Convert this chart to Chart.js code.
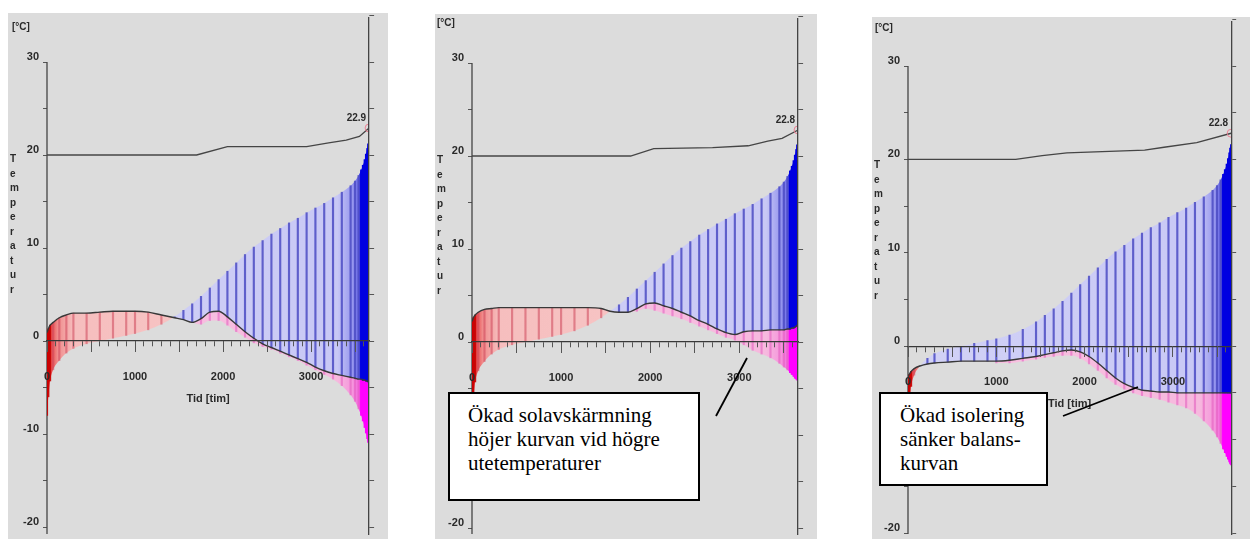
<!DOCTYPE html>
<html>
<head>
<meta charset="utf-8">
<script src="https://cdn.jsdelivr.net/npm/chart.js@4.4.1/dist/chart.umd.min.js"></script>
<style>
  body { margin: 0; width: 1250px; height: 539px; background: #fff; position: relative; overflow: hidden; font-family: "Liberation Sans", Arial, sans-serif; }
  .panel { position: absolute; background: #dcdcdc; }
  .panel canvas { position: absolute; left: 0; top: 0; }
  .unit { position: absolute; font-weight: bold; font-size: 10px; color: #2a2a2a; }
  .ytitle { position: absolute; font-weight: bold; font-size: 10px; line-height: 14.5px; width: 1px; word-break: break-all; color: #2a2a2a; }
  .xtitle { position: absolute; font-weight: bold; font-size: 11px; color: #2a2a2a; transform: translateX(-50%); white-space: nowrap; }
  .endlabel { position: absolute; font-weight: bold; font-size: 10px; color: #2a2a2a; transform: translate(-100%, -100%); }
  .note { position: absolute; box-sizing: border-box; background: #fff; border: 2px solid #000; font-family: "Liberation Serif", "Times New Roman", serif; font-size: 21px; line-height: 24px; color: #000; z-index: 5; }
  svg.leaders { position: absolute; left: 0; top: 0; z-index: 6; }
</style>
</head>
<body>

<div id="panels"></div>

<div class="note" style="left:448px; top:392px; width:252px; height:109px; padding:9px 0 0 18px;">Ökad solavskärmning<br>höjer kurvan vid högre<br>utetemperaturer</div>
<div class="note" style="left:879px; top:392px; width:169px; height:94px; padding:9px 0 0 19px;">Ökad isolering<br>sänker balans-<br>kurvan</div>

<svg class="leaders" width="1250" height="539">
  <line x1="747" y1="358" x2="716" y2="416" stroke="#000" stroke-width="1.8"/>
  <line x1="1138" y1="387" x2="1063" y2="416" stroke="#000" stroke-width="1.8"/>
</svg>

<script>
// duration in hours (sorted outdoor temperature)
const hours = [0, 15, 35, 70, 140, 220, 300, 450, 600, 750, 900, 1000, 1150, 1300, 1450, 1550, 1650,
  1750, 1850, 1950, 2050, 2150, 2250, 2350, 2450, 2550, 2650, 2750, 2850, 2950, 3050, 3150, 3250,
  3350, 3450, 3500, 3540, 3570, 3590, 3610, 3625, 3640, 3650, 3660]

// outdoor temperature, same climate in all three diagrams
const outdoorTemp = [-8, -6, -4.3, -3.1, -2.1, -1.3, -0.8, -0.3, 0, 0.3, 0.6, 0.8, 1.2, 1.8, 2.6, 3.3, 4.0,
  4.8, 5.7, 6.6, 7.5, 8.4, 9.3, 10.1, 10.8, 11.5, 12.1, 12.7, 13.2, 13.8, 14.3, 14.8, 15.4,
  16.0, 16.7, 17.2, 17.8, 18.4, 18.9, 19.5, 20.1, 20.7, 21.2, 21.6]

// balance temperature curves
const balance1 = [0.9, 1.3, 1.7, 2.0, 2.5, 2.8, 3.0, 3.0, 3.1, 3.2, 3.2, 3.2, 3.1, 2.8, 2.5, 2.3, 2.0,
  2.4, 3.1, 3.2, 2.6, 1.8, 1.0, 0.3, -0.3, -0.7, -1.1, -1.5, -1.9, -2.3, -2.8, -3.2, -3.5,
  -3.7, -3.9, -4.0, -4.1, -4.1, -4.2, -4.2, -4.3, -4.3, -4.4, -4.4]
const balance2 = [2.2, 2.6, 2.9, 3.2, 3.5, 3.6, 3.7, 3.7, 3.7, 3.7, 3.7, 3.7, 3.7, 3.7, 3.6, 3.3, 3.2,
  3.2, 3.6, 4.1, 4.2, 3.9, 3.6, 3.2, 2.8, 2.3, 1.9, 1.4, 1.0, 0.8, 1.1, 1.2, 1.2,
  1.3, 1.3, 1.3, 1.4, 1.4, 1.5, 1.5, 1.6, 1.7, 1.8, 1.8]
const balance3 = [-3.3, -3.0, -2.7, -2.4, -2.1, -1.9, -1.8, -1.7, -1.6, -1.6, -1.6, -1.6, -1.5, -1.3, -1.1, -0.9, -0.7,
  -0.5, -0.4, -0.6, -1.1, -1.8, -2.6, -3.4, -4.0, -4.4, -4.7, -4.8, -4.9, -4.9, -5.0, -5.0, -5.0,
  -5.0, -5.0, -5.0, -5.0, -5.0, -5.0, -5.0, -5.0, -5.0, -5.0, -5.0]

// lower (magenta) curves, null where there is none
const lower1 = [null, null, null, null, null, null, null, null, null, null, null, null, null, null, null, null, 2.0,
  1.8, 2.2, 2.2, 1.7, 1.0, 0.4, -0.2, -0.6, -0.9, -1.3, -1.7, -2.1, -2.6, -3.1, -3.6, -4.1,
  -4.8, -5.8, -6.5, -7.3, -8.0, -8.6, -9.3, -9.9, -10.5, -10.9, -11.2]
const lower2 = [null, null, null, null, null, null, null, null, null, null, null, null, null, null, null, null, null,
  3.2, 3.3, 3.6, 3.4, 3.1, 2.8, 2.5, 2.1, 1.7, 1.3, 0.9, 0.5, 0.2, -0.3, -0.9, -1.3,
  -1.7, -2.3, -2.7, -3.0, -3.3, -3.5, -3.7, -3.9, -4.0, -4.1, -4.2]
const lower3 = [null, null, null, null, null, null, null, null, null, null, null, -1.8, -1.8, -1.6, -1.4, -1.2, -1.1,
  -1.0, -1.0, -1.3, -1.9, -2.6, -3.4, -4.1, -4.6, -5.0, -5.3, -5.5, -5.7, -6.0, -6.3, -6.6, -7.2,
  -8.0, -9.0, -9.7, -10.4, -11.0, -11.4, -11.8, -12.1, -12.4, -12.6, -12.7]

// indoor temperature
const indoorHours1 = [0, 1700, 2050, 2950, 3200, 3400, 3550, 3660]
const indoorTemp1 = [20, 20, 20.9, 20.9, 21.3, 21.6, 22.0, 22.9]
const indoorHours2 = [0, 1780, 2040, 2700, 3100, 3320, 3480, 3660]
const indoorTemp2 = [20, 20, 20.8, 20.9, 21.1, 21.6, 21.9, 22.8]
const indoorHours3 = [0, 1220, 1520, 1800, 2680, 2900, 3270, 3660]
const indoorTemp3 = [20, 20, 20.4, 20.7, 21.0, 21.3, 21.8, 22.8]
const endLabels = ['22.9', '22.8', '22.8']

// axes
const xMax = 3660
const xLabels = [0, 1000, 2000, 3000]
const yLabels = [-20, -10, 0, 10, 20, 30]
const yUnit = '[°C]'
const yTitle = 'Temperatur'
const xTitle = 'Tid [tim]'

// where each diagram sits on the page
const panels = [
  { left: 8, top: 13, width: 380, height: 526, plotLeft: 47, plotRight: 377, y30: 62, yM20: 527,
    unit: [12, 21], ytitle: [10, 152], balance: balance1, lower: lower1, inHours: indoorHours1, inTemp: indoorTemp1 },
  { left: 435, top: 14, width: 382, height: 525, plotLeft: 472, plotRight: 802, y30: 63, yM20: 528,
    unit: [437, 17], ytitle: [437, 153], balance: balance2, lower: lower2, inHours: indoorHours2, inTemp: indoorTemp2 },
  { left: 872, top: 17, width: 378, height: 522, plotLeft: 908, plotRight: 1242, y30: 66, yM20: 533,
    unit: [875, 22], ytitle: [874, 158], balance: balance3, lower: lower3, inHours: indoorHours3, inTemp: indoorTemp3 }
]

const warmStops = [[0, 'rgb(210,210,246)'], [3300, 'rgb(200,200,245)'], [3470, 'rgb(150,150,238)'],
  [3540, 'rgb(110,110,235)'], [3560, 'rgb(20,20,230)'], [3660, 'rgb(0,0,225)']]
const coldStops = [[0, 'rgb(225,20,25)'], [40, 'rgb(232,70,70)'], [120, 'rgb(240,140,140)'],
  [300, 'rgb(246,190,190)'], [3660, 'rgb(248,205,205)']]
const lowStops = [[0, 'rgb(248,195,225)'], [3300, 'rgb(246,185,222)'], [3470, 'rgb(245,150,220)'],
  [3540, 'rgb(245,110,225)'], [3560, 'rgb(255,40,245)'], [3660, 'rgb(255,0,255)']]

function hGrad(chart, stops) {
  const {ctx, chartArea, scales} = chart
  if (!chartArea) return stops[stops.length - 1][1]
  const g = ctx.createLinearGradient(scales.x.getPixelForValue(0), 0, scales.x.getPixelForValue(xMax), 0)
  stops.forEach(s => g.addColorStop(s[0] / xMax, s[1]))
  return g
}

function pts(xs, ys) {
  let out = []
  xs.forEach((x, i) => { if (ys[i] !== null) out.push({x: x, y: ys[i]}) })
  return out
}

function steps(from, to, step) {
  let out = []
  for (let v = from; v <= to; v += step) out.push({value: v})
  return out
}

const axisLine = {
  id: 'axisLine',
  beforeDatasetsDraw(chart) {
    const {ctx, chartArea, scales} = chart
    ctx.save()
    ctx.strokeStyle = '#444'
    ctx.lineWidth = 1.3
    ctx.beginPath()
    ctx.moveTo(chartArea.left, scales.y.getPixelForValue(30))
    ctx.lineTo(chartArea.left, chartArea.bottom)
    ctx.stroke()
    ctx.restore()
  }
}

const holder = document.getElementById('panels')

panels.forEach((p, n) => {
  let div = document.createElement('div')
  div.className = 'panel'
  div.style.left = p.left + 'px'
  div.style.top = p.top + 'px'
  div.style.width = p.width + 'px'
  div.style.height = p.height + 'px'
  let canvas = document.createElement('canvas')
  canvas.width = p.width
  canvas.height = p.height
  div.append(canvas)
  holder.append(div)

  let unit = document.createElement('div')
  unit.className = 'unit'
  unit.style.left = p.unit[0] + 'px'
  unit.style.top = p.unit[1] + 'px'
  unit.innerText = yUnit
  document.body.append(unit)

  let yt = document.createElement('div')
  yt.className = 'ytitle'
  yt.style.left = p.ytitle[0] + 'px'
  yt.style.top = p.ytitle[1] + 'px'
  yt.innerText = yTitle
  document.body.append(yt)

  let ppd = (p.yM20 - p.y30) / 50
  let yMax = 30 + (p.y30 - p.top) / ppd
  let yMin = -20 - (p.top + p.height - p.yM20) / ppd
  let leftW = p.plotLeft - p.left
  let rightW = p.left + p.width - p.plotRight

  let mainBars = hours.map((h, i) => ({x: h, y: [p.balance[i], outdoorTemp[i]]}))
  let lowBars = []
  hours.forEach((h, i) => { if (p.lower[i] !== null) lowBars.push({x: h, y: [p.lower[i], p.balance[i]]}) })
  let lastIn = p.inTemp.length - 1

  let chart = new Chart(canvas, {
    type: 'line',
    data: {
      datasets: [
        {
          label: 'Balanstemperatur',
          data: pts(hours, p.balance),
          borderColor: '#383838',
          borderWidth: 1.4,
          pointRadius: 0,
          cubicInterpolationMode: 'monotone',
          fill: false,
          order: 1
        },
        {
          label: 'Utetemperatur',
          data: pts(hours, outdoorTemp),
          borderWidth: 0,
          borderColor: 'rgba(0,0,0,0)',
          pointRadius: 0,
          cubicInterpolationMode: 'monotone',
          fill: {
            target: 0,
            above: ctx => hGrad(ctx.chart, warmStops),
            below: ctx => hGrad(ctx.chart, coldStops)
          },
          order: 6
        },
        {
          label: 'Undre',
          data: pts(hours, p.lower),
          borderWidth: 0,
          borderColor: 'rgba(0,0,0,0)',
          pointRadius: 0,
          cubicInterpolationMode: 'monotone',
          fill: {
            target: 0,
            above: ctx => hGrad(ctx.chart, lowStops),
            below: ctx => hGrad(ctx.chart, lowStops)
          },
          order: 6
        },
        {
          type: 'bar',
          label: 'Staplar',
          data: mainBars,
          grouped: false,
          barThickness: 1.5,
          borderWidth: 0,
          backgroundColor: ctx => {
            let r = ctx.raw
            if (!r) return 'rgba(0,0,0,0)'
            if (r.y[1] < r.y[0]) return r.x < 50 ? 'rgba(200,0,0,0.9)' : 'rgba(205,70,90,0.55)'
            return r.x >= 3550 ? 'rgb(0,0,225)' : 'rgba(75,75,195,0.85)'
          },
          order: 3
        },
        {
          type: 'bar',
          label: 'Undre staplar',
          data: lowBars,
          grouped: false,
          barThickness: 1.5,
          borderWidth: 0,
          backgroundColor: ctx => {
            let r = ctx.raw
            if (!r) return 'rgba(0,0,0,0)'
            return r.x >= 3550 ? 'rgb(255,0,255)' : 'rgba(225,90,190,0.55)'
          },
          order: 3
        },
        {
          label: 'Innetemperatur',
          data: pts(p.inHours, p.inTemp),
          borderColor: '#454545',
          borderWidth: 1.3,
          pointRadius: ctx => ctx.dataIndex === lastIn ? 4 : 0,
          pointBorderColor: 'rgba(235,120,140,0.9)',
          pointBackgroundColor: 'rgba(0,0,0,0)',
          pointBorderWidth: 1,
          fill: false,
          order: 0
        }
      ]
    },
    options: {
      responsive: false,
      animation: false,
      events: [],
      layout: { padding: 0 },
      plugins: { legend: { display: false }, tooltip: { enabled: false } },
      scales: {
        x: {
          type: 'linear',
          min: 0,
          max: xMax,
          offset: false,
          position: { y: 0 },
          afterBuildTicks: s => { s.ticks = steps(0, 3600, 100) },
          ticks: {
            callback: v => xLabels.includes(v) ? String(v) : '',
            autoSkip: false,
            maxRotation: 0,
            minRotation: 0,
            padding: 24,
            z: 1,
            color: '#2a2a2a',
            font: { size: 11, weight: 'bold', family: 'Liberation Sans' }
          },
          grid: { drawOnChartArea: false, offset: false, tickLength: 5, color: '#555', z: 1 },
          border: { display: true, color: '#383838', width: 1.3, z: 1 }
        },
        x2: {
          type: 'linear',
          min: 0,
          max: xMax,
          offset: false,
          position: { y: 0 },
          afterBuildTicks: s => { s.ticks = steps(0, 3500, 500) },
          ticks: { display: false },
          grid: { drawOnChartArea: false, offset: false, tickLength: 11, color: '#555', z: 1 },
          border: { display: false }
        },
        y: {
          type: 'linear',
          position: 'left',
          min: yMin,
          max: yMax,
          afterFit: s => { s.width = leftW },
          afterBuildTicks: s => { s.ticks = steps(-20, 30, 5) },
          ticks: {
            callback: v => yLabels.includes(v) ? String(v) : '',
            autoSkip: false,
            padding: 4,
            labelOffset: -5,
            color: '#2a2a2a',
            font: { size: 11, weight: 'bold', family: 'Liberation Sans', lineHeight: 0.1 }
          },
          grid: { drawOnChartArea: false, tickLength: 4, color: '#555' },
          border: { display: false }
        },
        yr: {
          type: 'linear',
          position: 'right',
          min: yMin,
          max: yMax,
          afterFit: s => { s.width = rightW },
          afterBuildTicks: s => { s.ticks = steps(-20, 35, 5) },
          ticks: { display: false },
          grid: { drawOnChartArea: false, tickLength: 5, color: '#555', z: 1 },
          border: { display: true, color: '#444', width: 1.3, z: 1 }
        }
      }
    },
    plugins: [axisLine]
  })

  // fit the temperature range to the chart area that the layout gave
  let ca = chart.chartArea
  let top30 = p.y30 - p.top
  let bottom20 = p.yM20 - p.top
  let newMax = 30 + (top30 - ca.top) / ppd
  let newMin = -20 - (ca.bottom - bottom20) / ppd
  chart.options.scales.y.min = newMin
  chart.options.scales.y.max = newMax
  chart.options.scales.yr.min = newMin
  chart.options.scales.yr.max = newMax
  chart.update()

  let xs = chart.scales.x
  let ys = chart.scales.y
  let xt = document.createElement('div')
  xt.className = 'xtitle'
  xt.style.left = (p.left + (chart.chartArea.left + chart.chartArea.right) / 2) + 'px'
  xt.style.top = (p.top + ys.getPixelForValue(0) + 51) + 'px'
  xt.innerText = xTitle
  document.body.append(xt)

  let el = document.createElement('div')
  el.className = 'endlabel'
  el.style.left = (p.left + xs.getPixelForValue(p.inHours[lastIn]) - 3) + 'px'
  el.style.top = (p.top + ys.getPixelForValue(p.inTemp[lastIn]) - 5) + 'px'
  el.innerText = endLabels[n]
  document.body.append(el)
})
</script>
</body>
</html>
